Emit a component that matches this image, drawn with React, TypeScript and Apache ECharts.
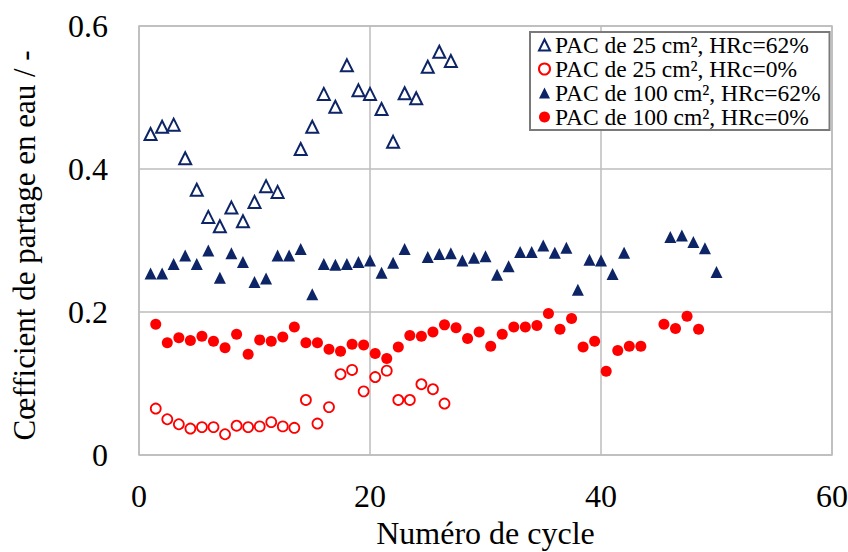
import React, { useEffect, useRef } from "react";
import * as echarts from "echarts";

const NAVY = "#0d2566";
const RED = "#ff0000";
const FONT = "Liberation Serif";

const seriesNames = [
  "PAC de 25 cm², HRc=62%",
  "PAC de 25 cm², HRc=0%",
  "PAC de 100 cm², HRc=62%",
  "PAC de 100 cm², HRc=0%",
];

const xTicks = [0, 20, 40, 60];
const yTicks = [0, 0.2, 0.4, 0.6];

// PAC 25 cm², HRc=62%
const x25h = [1, 2, 3, 4, 5, 6, 7, 8, 9, 10, 11, 12, 14, 15, 16, 17, 18, 19, 20, 21, 22, 23, 24, 25, 26, 27];
const y25h = [0.449, 0.459, 0.462, 0.415, 0.371, 0.333, 0.320, 0.346, 0.327, 0.354, 0.376, 0.368, 0.428, 0.459, 0.505, 0.487, 0.545, 0.510, 0.505, 0.484, 0.438, 0.506, 0.499, 0.543, 0.564, 0.551];

// PAC 25 cm², HRc=0%
const x25d = [1.45, 2.45, 3.45, 4.45, 5.45, 6.45, 7.45, 8.45, 9.45, 10.45, 11.45, 12.45, 13.45, 14.45, 15.45, 16.45, 17.45, 18.45, 19.45, 20.45, 21.45, 22.45, 23.45, 24.45, 25.45, 26.45];
const y25d = [0.065, 0.050, 0.043, 0.037, 0.039, 0.039, 0.029, 0.041, 0.039, 0.040, 0.046, 0.040, 0.038, 0.077, 0.044, 0.067, 0.113, 0.119, 0.089, 0.109, 0.118, 0.077, 0.077, 0.099, 0.092, 0.072];

// PAC 100 cm², HRc=62%
const x100h = [1, 2, 3, 4, 5, 6, 7, 8, 9, 10, 11, 12, 13, 14, 15, 16, 17, 18, 19, 20, 21, 22, 23, 25, 26, 27, 28, 29, 30, 31, 32, 33, 34, 35, 36, 37, 38, 39, 40, 41, 42, 46, 47, 48, 49, 50];
const y100h = [0.254, 0.254, 0.267, 0.279, 0.267, 0.286, 0.248, 0.282, 0.270, 0.242, 0.247, 0.279, 0.279, 0.288, 0.225, 0.267, 0.266, 0.267, 0.270, 0.272, 0.255, 0.269, 0.288, 0.277, 0.281, 0.282, 0.272, 0.276, 0.278, 0.252, 0.264, 0.284, 0.284, 0.293, 0.283, 0.290, 0.231, 0.273, 0.272, 0.253, 0.283, 0.305, 0.307, 0.298, 0.289, 0.256];

// PAC 100 cm², HRc=0%
const x100d = [1.45, 2.45, 3.45, 4.45, 5.45, 6.45, 7.45, 8.45, 9.45, 10.45, 11.45, 12.45, 13.45, 14.45, 15.45, 16.45, 17.45, 18.45, 19.45, 20.45, 21.45, 22.45, 23.45, 24.45, 25.45, 26.45, 27.45, 28.45, 29.45, 30.45, 31.45, 32.45, 33.45, 34.45, 35.45, 36.45, 37.45, 38.45, 39.45, 40.45, 41.45, 42.45, 43.45, 45.45, 46.45, 47.45, 48.45];
const y100d = [0.183, 0.157, 0.164, 0.160, 0.166, 0.159, 0.150, 0.169, 0.141, 0.161, 0.159, 0.165, 0.179, 0.157, 0.157, 0.148, 0.145, 0.155, 0.154, 0.142, 0.135, 0.151, 0.167, 0.166, 0.172, 0.182, 0.178, 0.163, 0.172, 0.152, 0.169, 0.179, 0.179, 0.181, 0.198, 0.176, 0.191, 0.151, 0.159, 0.117, 0.146, 0.152, 0.152, 0.183, 0.177, 0.194, 0.176];

const zip = (xs: number[], ys: number[]) => xs.map((x, i) => [x, ys[i]]);

export default function App() {
  const ref = useRef<HTMLDivElement>(null);
  useEffect(() => {
    if (!ref.current) return;
    const chart = echarts.init(ref.current, null, { renderer: "svg" });
    chart.setOption({
      animation: false,
      backgroundColor: "#ffffff",
      textStyle: { fontFamily: FONT },
      grid: {
        left: 139,
        top: 26,
        right: 16,
        bottom: 97,
        show: true,
        outerBoundsMode: "none",
        containLabel: false,
        borderColor: "#bcbcbc",
        borderWidth: 1.5,
      },
      xAxis: {
        type: "value",
        min: xTicks[0],
        max: xTicks[xTicks.length - 1],
        interval: 20,
        name: "Numéro de cycle",
        nameLocation: "middle",
        nameGap: 61,
        nameTextStyle: { fontFamily: FONT, fontSize: 32, color: "#000" },
        axisLine: { show: false },
        axisTick: { show: false },
        axisLabel: { fontFamily: FONT, fontSize: 32, color: "#000", margin: 25 },
        splitLine: { show: true, lineStyle: { color: "#bcbcbc", width: 1.5 } },
      },
      yAxis: {
        type: "value",
        min: yTicks[0],
        max: yTicks[yTicks.length - 1],
        interval: 0.2,
        name: "Cœfficient de partage en eau / -",
        nameLocation: "middle",
        nameGap: 99,
        nameTextStyle: { fontFamily: FONT, fontSize: 31, color: "#000", padding: [0, 10, 0, 0] },
        axisLine: { show: false },
        axisTick: { show: false },
        axisLabel: {
          fontFamily: FONT,
          fontSize: 32,
          color: "#000",
          margin: 31,
          formatter: (v: number) => (v === 0 ? "0" : v.toFixed(1)),
        },
        splitLine: { show: true, lineStyle: { color: "#bcbcbc", width: 1.5 } },
      },
      legend: {
        orient: "vertical",
        left: 530,
        top: 32,
        backgroundColor: "#ffffff",
        borderColor: "#7a7a7a",
        borderWidth: 2,
        padding: [1, 9, 1, 8],
        itemGap: 0,
        itemWidth: 11,
        itemHeight: 11,
        textStyle: { fontFamily: FONT, fontSize: 23.5, color: "#000", lineHeight: 23 },
        data: seriesNames,
      },
      series: [
        {
          name: seriesNames[0],
          type: "scatter",
          symbol: "triangle",
          symbolSize: 12,
          itemStyle: { color: "#ffffff", borderColor: NAVY, borderWidth: 2, opacity: 1 },
          data: zip(x25h, y25h),
          z: 3,
        },
        {
          name: seriesNames[1],
          type: "scatter",
          symbol: "circle",
          symbolSize: 10,
          itemStyle: { color: "#ffffff", borderColor: RED, borderWidth: 1.8, opacity: 1 },
          data: zip(x25d, y25d),
          z: 3,
        },
        {
          name: seriesNames[2],
          type: "scatter",
          symbol: "triangle",
          symbolSize: 12,
          itemStyle: { color: NAVY, opacity: 1 },
          data: zip(x100h, y100h),
          z: 3,
        },
        {
          name: seriesNames[3],
          type: "scatter",
          symbol: "circle",
          symbolSize: 11,
          itemStyle: { color: RED, opacity: 1 },
          data: zip(x100d, y100d),
          z: 3,
        },
      ],
    });
    return () => chart.dispose();
  }, []);
  return (
    <div
      ref={ref}
      style={{ position: "fixed", left: 0, top: 0, width: 848, height: 552 }}
    />
  );
}
